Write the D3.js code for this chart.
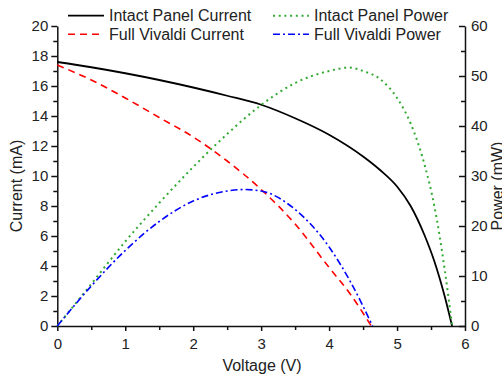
<!DOCTYPE html>
<html>
<head>
<meta charset="utf-8">
<script src="https://cdn.jsdelivr.net/npm/d3@7"></script>
<style>
  body { margin: 0; background: #fff; }
  svg { font-family: "Liberation Sans", Arial, sans-serif; }
  .axis path, .axis line { stroke: #111; stroke-width: 1.5; }
  .axis text { font-size: 15px; fill: #222; }
</style>
</head>
<body>
<div class="iv-graph"></div>
<script>
// Intact panel
const intactVoltage = [0, 0.5, 1, 1.5, 2, 2.5, 3, 3.5, 4, 4.5, 4.75, 5, 5.2, 5.4, 5.55, 5.7, 5.81];
const intactCurrent = [17.6, 17.25, 16.85, 16.4, 15.9, 15.35, 14.75, 13.85, 12.75, 11.3, 10.4, 9.3, 8.0, 6.1, 4.3, 2.0, 0];
const intactPowerVoltage = [0, 0.5, 1, 1.5, 2, 2.5, 3, 3.5, 4, 4.3, 4.5, 4.75, 5, 5.2, 5.4, 5.55, 5.7, 5.81];
const intactPower = [0, 8.4, 16.9, 24.6, 31.8, 38.4, 44.2, 48.6, 51.0, 51.7, 51.0, 49.4, 45.6, 40.5, 32.5, 23.9, 11.4, 0];

// Full Vivaldi
const vivaldiVoltage = [0, 0.5, 1, 1.5, 2, 2.5, 3, 3.5, 4, 4.3, 4.62];
const vivaldiCurrent = [17.4, 16.4, 15.2, 13.9, 12.6, 11.0, 9.1, 6.8, 3.9, 2.2, 0];
const vivaldiPowerVoltage = [0, 0.5, 1, 1.5, 2, 2.5, 2.75, 3, 3.5, 4, 4.3, 4.64];
const vivaldiPower = [0, 8.0, 15.1, 20.9, 25.0, 27.0, 27.3, 27.0, 23.3, 15.8, 9.2, 0];

const xTicks = [0, 1, 2, 3, 4, 5, 6];
const currentTicks = [0, 2, 4, 6, 8, 10, 12, 14, 16, 18, 20];
const powerTicks = [0, 10, 20, 30, 40, 50, 60];

const width = 502, height = 375;
const plot = { left: 57.3, right: 465, top: 26, bottom: 326 };

const x = d3.scaleLinear().domain([0, 6]).range([plot.left, plot.right]);
const yCurrent = d3.scaleLinear().domain([0, 20]).range([plot.bottom, plot.top]);
const yPower = d3.scaleLinear().domain([0, 60]).range([plot.bottom, plot.top]);

const svg = d3.select(".iv-graph").append("svg")
  .attr("width", width)
  .attr("height", height);

// minor ticks first, majors over them
svg.append("g")
  .attr("class", "axis")
  .attr("transform", `translate(${plot.left},0)`)
  .call(d3.axisLeft(yCurrent).tickValues(d3.range(1, 20, 2)).tickSize(4).tickFormat(""))
  .call((g) => g.select(".domain").remove());

svg.append("g")
  .attr("class", "axis")
  .attr("transform", `translate(0,${plot.bottom})`)
  .call(d3.axisBottom(x).tickValues(d3.range(0.5, 6, 1)).tickSize(4).tickFormat(""))
  .call((g) => g.select(".domain").remove());

svg.append("g")
  .attr("class", "axis")
  .attr("transform", `translate(${plot.right},0)`)
  .call(d3.axisRight(yPower).tickValues(d3.range(5, 60, 10)).tickSize(-4).tickFormat(""))
  .call((g) => g.select(".domain").remove());

svg.append("g")
  .attr("class", "axis")
  .attr("transform", `translate(${plot.left},0)`)
  .call(d3.axisLeft(yCurrent).tickValues(currentTicks).tickSize(6).tickSizeOuter(0).tickPadding(3).tickFormat(d3.format("d")));

svg.append("g")
  .attr("class", "axis")
  .attr("transform", `translate(0,${plot.bottom})`)
  .call(d3.axisBottom(x).tickValues(xTicks).tickSize(5).tickSizeOuter(0).tickPadding(7).tickFormat(d3.format("d")));

svg.append("g")
  .attr("class", "axis")
  .attr("transform", `translate(${plot.right},0)`)
  .call(d3.axisRight(yPower).tickValues(powerTicks).tickSize(-6).tickSizeOuter(0).tickPadding(6).tickFormat(d3.format("d")));

// axis titles
svg.append("text")
  .attr("transform", `translate(22,186) rotate(-90)`)
  .attr("text-anchor", "middle")
  .attr("font-size", 16)
  .attr("fill", "#222")
  .text("Current (mA)");

svg.append("text")
  .attr("x", 262)
  .attr("y", 371)
  .attr("text-anchor", "middle")
  .attr("font-size", 16)
  .attr("fill", "#222")
  .text("Voltage (V)");

// the reference crops this title at the right edge too
svg.append("text")
  .attr("transform", `translate(503,186) rotate(-90)`)
  .attr("text-anchor", "middle")
  .attr("font-size", 16)
  .attr("fill", "#222")
  .text("Power (mW)");

const series = [
  { name: "Intact Panel Current", v: intactVoltage, y: intactCurrent, scale: yCurrent, color: "#000000", dash: null, w: 1.8 },
  { name: "Full Vivaldi Current", v: vivaldiVoltage, y: vivaldiCurrent, scale: yCurrent, color: "#ff0000", dash: "7,5", w: 1.6 },
  { name: "Intact Panel Power", v: intactPowerVoltage, y: intactPower, scale: yPower, color: "#33aa33", dash: "2,3.7", w: 2 },
  { name: "Full Vivaldi Power", v: vivaldiPowerVoltage, y: vivaldiPower, scale: yPower, color: "#0000ff", dash: "7,3,2,3", w: 1.6 },
];

series.forEach((s) => {
  const pts = s.v.map((v, i) => [v, s.y[i]]);
  const line = d3.line()
    .x((d) => x(d[0]))
    .y((d) => s.scale(d[1]))
    .curve(d3.curveMonotoneX);
  svg.append("path")
    .datum(pts)
    .attr("fill", "none")
    .attr("stroke", s.color)
    .attr("stroke-width", s.w)
    .attr("stroke-dasharray", s.dash)
    .attr("d", line);
});

// legend
const legendPos = [[68, 15.7], [68, 34.3], [273, 15.7], [273, 34.3]];
series.forEach((s, i) => {
  const [lx, ly] = legendPos[i];
  svg.append("line")
    .attr("x1", lx).attr("x2", lx + 36)
    .attr("y1", ly).attr("y2", ly)
    .attr("stroke", s.color)
    .attr("stroke-width", s.w)
    .attr("stroke-dasharray", s.dash);
  svg.append("text")
    .attr("x", lx + 41)
    .attr("y", ly + 5.5)
    .attr("font-size", 16)
    .attr("fill", "#222")
    .text(s.name);
});
</script>
</body>
</html>
